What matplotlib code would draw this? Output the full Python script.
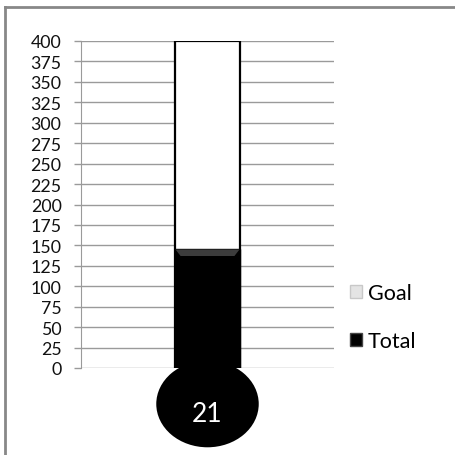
import matplotlib
matplotlib.use("Agg")
import matplotlib.pyplot as plt
from matplotlib.patches import Ellipse, Rectangle, Polygon
from matplotlib.lines import Line2D

categories = ["Goal", "Total"]
goal_value = 400
total_value = 145
bulb_label = "21"
yticks = list(range(0, 401, 25))

plt.rcParams['font.family'] = ['Lato', 'DejaVu Sans']

fig = plt.figure(figsize=(4.56, 4.56), dpi=100)
W = H = 456.0
ax = fig.add_axes([81 / W, 1 - 369 / H, (334 - 81) / W, (369 - 42) / H])

bw = 0.253
ax.bar([0], [goal_value], width=bw, color="white", edgecolor="black", linewidth=1.6, zorder=3, label=categories[0])
ax.bar([0], [total_value], width=bw, color="black", edgecolor="black", linewidth=1.0, zorder=4, label=categories[1])
# subtle bevel at top of Total
bev = Polygon([(-bw / 2, total_value), (bw / 2, total_value), (bw / 2 - 0.02, total_value - 8),
               (-bw / 2 + 0.02, total_value - 8)], closed=True, facecolor="#3c3c3c", edgecolor="none", zorder=5)
ax.add_patch(bev)

ax.set_xlim(-0.5, 0.5)
ax.set_ylim(0, 400)
ax.set_yticks(yticks)
ax.set_yticklabels([str(t) for t in yticks], fontsize=12.8)
ax.yaxis.grid(True, color="#9a9a9a", linewidth=1.0, zorder=0)
ax.set_axisbelow(True)
ax.set_xticks([])
for s in ["top", "right", "bottom"]:
    ax.spines[s].set_visible(False)
ax.spines["left"].set_color("#9a9a9a")
ax.tick_params(axis="y", length=5, width=1.0, color="#9a9a9a", pad=9, labelcolor="#111111")

# bulb
ell = Ellipse((0, -44), width=0.405, height=106, facecolor="black", edgecolor="none", clip_on=False, zorder=6)
ax.add_patch(ell)
ax.text(0, -56, bulb_label, color="white", fontsize=19, ha="center", va="center", zorder=7, clip_on=False)

handles = [Rectangle((0, 0), 1, 1, facecolor="#e4e4e4", edgecolor="#c8c8c8"),
           Rectangle((0, 0), 1, 1, facecolor="black", edgecolor="#444444")]
leg = fig.legend(handles, categories, loc="center left", bbox_to_anchor=(331 / W, 1 - 318 / H),
                 frameon=False, fontsize=15.5, handlelength=0.56, handleheight=0.56,
                 handletextpad=0.25, labelspacing=1.28)

# outer border (left and top)
fig.add_artist(Line2D([5 / W, 5 / W], [0, 1 - 8 / H], color="#888888", linewidth=2, transform=fig.transFigure))
fig.add_artist(Line2D([5 / W, 1], [1 - 8 / H, 1 - 8 / H], color="#888888", linewidth=2, transform=fig.transFigure))

fig.savefig("out.png", dpi=100)
